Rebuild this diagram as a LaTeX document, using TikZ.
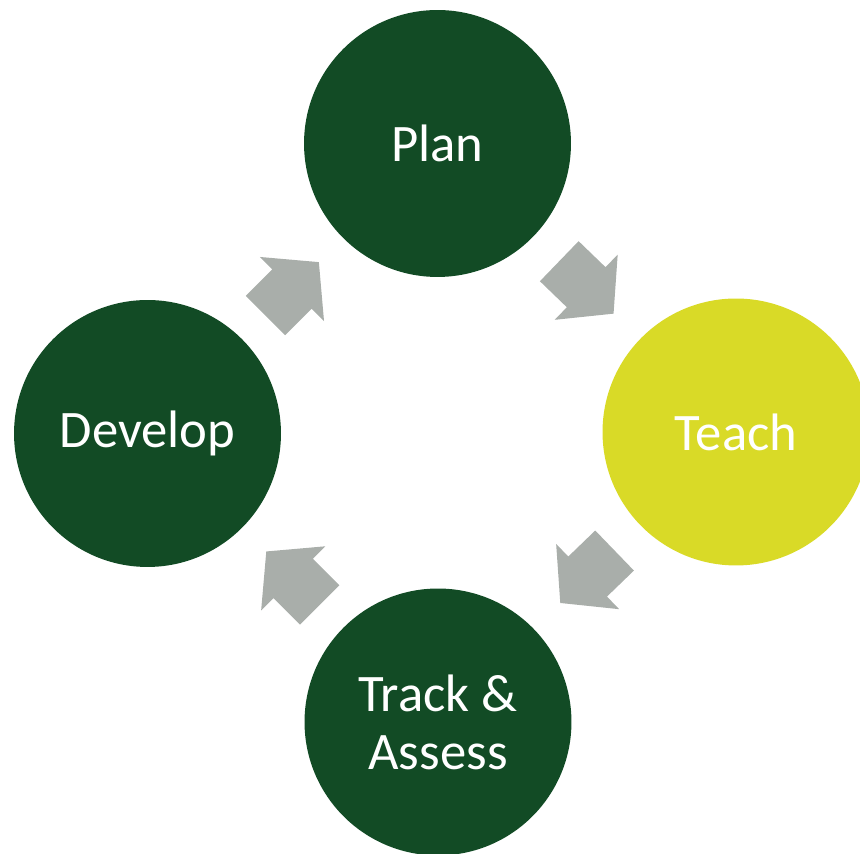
\documentclass[tikz,border=0pt]{standalone}
\usepackage{fontspec}
\setmainfont{Carlito}
\usetikzlibrary{shapes.arrows, calc}
\definecolor{stagegreen}{HTML}{124B25}
\definecolor{stagelime}{HTML}{D9DA27}
\definecolor{flowgray}{HTML}{A9AEAA}
\tikzset{
stage/.style={shape=circle, minimum size=5.34cm, inner sep=0, fill=stagegreen, text=white, font=\fontsize{30}{33}\selectfont, align=center}, current/.style={stage, fill=stagelime}, flow/.style={single arrow, fill=flowgray, inner xsep=0pt, inner ysep=0.55cm, single arrow head extend=0.35cm, single arrow tip angle=100, minimum height=1.51cm, anchor=tip}}

\begin{document}
\begin{tikzpicture}[x=0.02cm, y=0.02cm]
\useasboundingbox (0,0) rectangle (860,854);
\clip (0,0) rectangle (860,854);
\node [stage] (plan) at (437.5,710.5) {Plan};
\node [current] (teach) at (736,422) {Teach};
\node [stage] (track) at (438,132) {Track \&\\Assess};
\node [stage] (develop) at (147.5,420.5) {Develop};
\node [flow, rotate=-44] (planteach) at ($(plan)!0.5!(teach)!0.755cm!(teach)$) {};
\node [flow, rotate=224] (teachtrack) at ($(teach)!0.5!(track)!0.755cm!(track)$) {};
\node [flow, rotate=135] (trackdevelop) at ($(track)!0.5!(develop)!0.755cm!(develop)$) {};
\node [flow, rotate=45] (developplan) at ($(develop)!0.5!(plan)!0.755cm!(plan)$) {};
\end{tikzpicture}
\end{document}
